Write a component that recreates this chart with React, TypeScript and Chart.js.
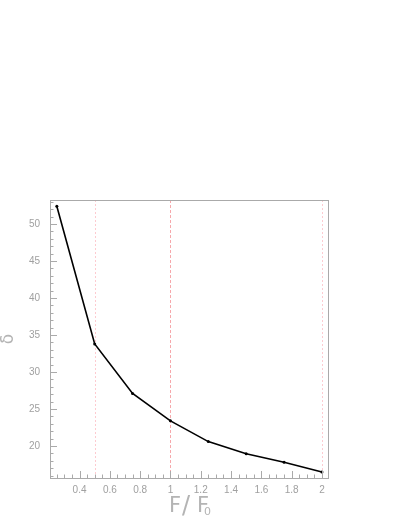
import React, { useEffect, useRef } from "react";
import { Chart, registerables } from "chart.js";

Chart.register(...registerables);

const xValues = [0.25, 0.5, 0.75, 1, 1.25, 1.5, 1.75, 2];
const deltaValues = [52.4, 33.8, 27.1, 23.4, 20.6, 18.95, 17.8, 16.5];
const xTickLabels = [0.4, 0.6, 0.8, 1, 1.2, 1.4, 1.6, 1.8, 2];
const yTickLabels = [20, 25, 30, 35, 40, 45, 50];
const markerLines = [0.5, 1, 2];

const X_MIN = 0.205;
const X_MAX = 2.04;
const Y_MIN = 15.68;
const Y_MAX = 53.24;

const AXIS_COLOR = "#aaaaaa";
const LABEL_COLOR = "#a0a0a0";
const FONT = "'Liberation Sans', Arial, sans-serif";
const THIN = "'DejaVu Sans ExtraLight', 'DejaVu Sans', sans-serif";

const framePlugin = {
  id: "rootFrame",
  beforeDatasetsDraw(chart: any) {
    const { ctx, chartArea: a, scales } = chart;
    const xs = scales.x;
    ctx.save();
    markerLines.forEach((v) => {
      const px = Math.round(xs.getPixelForValue(v)) + 0.5;
      ctx.beginPath();
      if (v === 1) {
        ctx.strokeStyle = "rgba(240,110,115,0.6)";
        ctx.setLineDash([3, 2]);
      } else {
        ctx.strokeStyle = "rgba(250,140,150,0.45)";
        ctx.setLineDash([2, 2]);
      }
      ctx.lineWidth = 1;
      ctx.moveTo(px, a.top);
      ctx.lineTo(px, a.bottom);
      ctx.stroke();
    });
    ctx.restore();
  },
  afterDraw(chart: any) {
    const { ctx, chartArea: a, scales } = chart;
    const xs = scales.x;
    const ys = scales.y;
    ctx.save();
    ctx.strokeStyle = AXIS_COLOR;
    ctx.lineWidth = 1;
    ctx.setLineDash([]);
    ctx.strokeRect(Math.round(a.left) + 0.5, Math.round(a.top) + 0.5, Math.round(a.right - a.left), Math.round(a.bottom - a.top));
    ctx.beginPath();
    for (let v = 16; v <= 53; v += 1) {
      const py = Math.round(ys.getPixelForValue(v)) + 0.5;
      const len = v % 5 === 0 ? 7 : 3.5;
      ctx.moveTo(a.left, py);
      ctx.lineTo(a.left + len, py);
    }
    for (let i = 5; i <= 40; i += 1) {
      const v = i * 0.05;
      if (v < X_MIN || v > X_MAX) continue;
      const px = Math.round(xs.getPixelForValue(v)) + 0.5;
      const len = i % 4 === 0 ? 7 : 3.5;
      ctx.moveTo(px, a.bottom);
      ctx.lineTo(px, a.bottom - len);
    }
    ctx.stroke();

    // x title: F / F0
    ctx.fillStyle = "#b4b4b4";
    ctx.textBaseline = "alphabetic";
    ctx.textAlign = "left";
    ctx.font = `21px ${THIN}`;
    ctx.fillText("F", 169, 512);
    ctx.font = `24px ${THIN}`;
    ctx.fillText("/", 182, 513);
    ctx.font = `21px ${THIN}`;
    ctx.fillText("F", 197, 512);
    ctx.font = `11px ${THIN}`;
    ctx.fillText("0", 204, 515);

    // y title
    ctx.save();
    ctx.translate(13, 339);
    ctx.rotate(-Math.PI / 2);
    ctx.font = `17px ${THIN}`;
    ctx.textAlign = "center";
    ctx.fillText("δ", 0, 0);
    ctx.restore();

    ctx.restore();
  },
};

export default function App() {
  const ref = useRef<HTMLCanvasElement | null>(null);

  useEffect(() => {
    document.body.style.margin = "0";
    const canvas = ref.current;
    if (!canvas) return;
    const chart = new Chart(canvas, {
      type: "line",
      data: {
        datasets: [
          {
            data: xValues.map((x, i) => ({ x, y: deltaValues[i] })),
            borderColor: "#000000",
            backgroundColor: "#000000",
            borderWidth: 1.6,
            pointRadius: 1.5,
            pointBorderWidth: 0,
            tension: 0,
          },
        ],
      },
      options: {
        responsive: false,
        animation: false,
        devicePixelRatio: 1,
        layout: { padding: { top: 200, right: 81, left: 0, bottom: 0 } },
        plugins: { legend: { display: false }, tooltip: { enabled: false } },
        scales: {
          x: {
            type: "linear",
            min: X_MIN,
            max: X_MAX,
            border: { display: false },
            grid: { display: false, drawTicks: false },
            afterBuildTicks: (s: any) => {
              s.ticks = xTickLabels.map((v) => ({ value: v }));
            },
            afterFit: (s: any) => {
              s.height = 51;
            },
            ticks: {
              padding: 6,
              autoSkip: false,
              maxRotation: 0,
              color: LABEL_COLOR,
              font: { family: FONT, size: 10 },
              callback: (v: any) => String(v),
            },
          },
          y: {
            type: "linear",
            min: Y_MIN,
            max: Y_MAX,
            border: { display: false },
            grid: { display: false, drawTicks: false },
            afterBuildTicks: (s: any) => {
              s.ticks = yTickLabels.map((v) => ({ value: v }));
            },
            afterFit: (s: any) => {
              s.width = 50;
            },
            ticks: {
              padding: 10,
              autoSkip: false,
              color: LABEL_COLOR,
              font: { family: FONT, size: 10 },
              callback: (v: any) => String(v),
            },
          },
        },
      },
      plugins: [framePlugin],
    });
    return () => chart.destroy();
  }, []);

  return (
    <div style={{ position: "absolute", left: 0, top: 0, width: 409, height: 529 }}>
      <canvas ref={ref} width={409} height={529} style={{ width: 409, height: 529 }} />
    </div>
  );
}
